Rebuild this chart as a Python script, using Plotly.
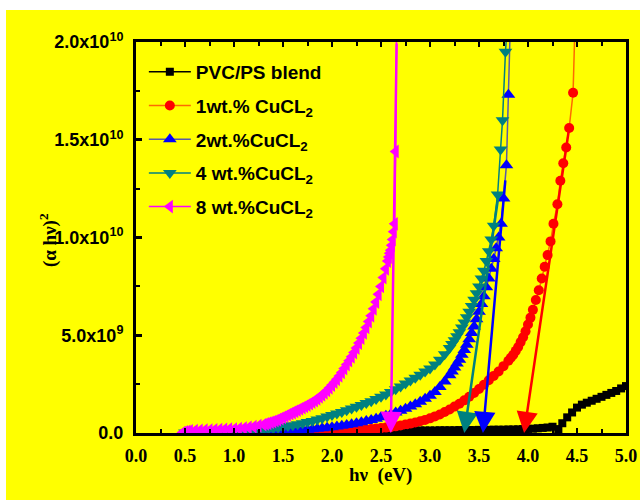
import plotly.graph_objects as go

# ---------------- data (values in units of 1e9) ----------------
grid_05 = [0.5, 0.55, 0.6, 0.65, 0.7, 0.75, 0.8, 0.85, 0.9, 0.95,
           1.0, 1.05, 1.1, 1.15, 1.2, 1.25, 1.3, 1.35, 1.4, 1.45,
           1.5, 1.55, 1.6, 1.65, 1.7, 1.75, 1.8, 1.85, 1.9, 1.95,
           2.0, 2.05, 2.1, 2.15, 2.2, 2.25, 2.3, 2.35, 2.4, 2.45,
           2.5, 2.55, 2.6, 2.65, 2.7, 2.75, 2.8, 2.85, 2.9, 2.95,
           3.0, 3.05, 3.1, 3.15, 3.2, 3.25, 3.3, 3.35, 3.4, 3.45,
           3.5, 3.55, 3.6, 3.65, 3.7, 3.75, 3.8, 3.85, 3.9, 3.95, 4.0]

# PVC/PS blend
pvc_x = grid_05 + [4.05, 4.1, 4.15, 4.2, 4.25, 4.28, 4.31, 4.35, 4.4, 4.45, 4.5,
                   4.55, 4.6, 4.65, 4.7, 4.75, 4.8, 4.85, 4.9, 4.95, 5.0]
pvc_y = [0.0] * 11 + [0.01] * 10 + [0.03] * 10 + \
        [0.05, 0.06, 0.07, 0.08, 0.08, 0.09, 0.09, 0.10, 0.10, 0.10,
         0.11, 0.11, 0.11, 0.12, 0.12, 0.12, 0.12, 0.13, 0.13, 0.13,
         0.13, 0.14, 0.14, 0.14, 0.14, 0.15, 0.15, 0.15, 0.15, 0.16,
         0.16, 0.16, 0.17, 0.17, 0.17, 0.18, 0.18, 0.19, 0.20, 0.21] + \
        [0.22, 0.24, 0.26, 0.28, 0.32, -0.5, 0.2, 0.5, 0.8, 1.05, 1.3,
         1.45, 1.55, 1.65, 1.75, 1.85, 1.95, 2.05, 2.15, 2.28, 2.4]

# 1 wt.% CuCl2
cu1_x = [0.5, 0.6, 0.7, 0.8, 0.9, 1.0, 1.1, 1.2, 1.3, 1.4, 1.5, 1.6, 1.7, 1.8, 1.9] + \
        grid_05[30:67] + \
        [3.825, 3.85, 3.875, 3.9, 3.925, 3.95, 3.975, 4.0, 4.025] + \
        [4.05, 4.08, 4.11, 4.14, 4.17, 4.20, 4.23, 4.26, 4.30, 4.33, 4.36, 4.39, 4.42, 4.46, 4.48]
cu1_y = [0.0, 0.0, 0.0, 0.0, 0.0, 0.01, 0.01, 0.01, 0.01, 0.02, 0.02, 0.02, 0.03, 0.03, 0.04] + \
        [0.05, 0.065, 0.08, 0.10, 0.12, 0.14, 0.16, 0.18, 0.20, 0.225,
         0.25, 0.275, 0.30, 0.34, 0.38, 0.43, 0.48, 0.54, 0.60, 0.67,
         0.75, 0.85, 0.95, 1.07, 1.20, 1.35, 1.50, 1.67, 1.85, 2.05,
         2.25, 2.47, 2.70, 2.92, 3.15, 3.42, 3.70] + \
        [3.85, 4.00, 4.20, 4.40, 4.65, 4.90, 5.20, 5.55, 5.90] + \
        [6.3, 6.8, 7.3, 7.9, 8.5, 9.1, 9.8, 10.7, 11.7, 12.9, 13.8, 14.6, 15.6, 17.4, 21.0]

# 2 wt.% CuCl2
cu2_x = grid_05[:55] + \
        [3.225, 3.25, 3.275, 3.3, 3.325, 3.35, 3.375, 3.4, 3.425, 3.45, 3.475,
         3.5, 3.525, 3.55, 3.575, 3.6, 3.625, 3.65, 3.675, 3.7, 3.725] + \
        [3.75, 3.78, 3.80, 3.82]
cu2_y = [0.02, 0.02, 0.02, 0.03, 0.03, 0.03, 0.03, 0.04, 0.04, 0.04,
         0.04, 0.05, 0.05, 0.055, 0.06, 0.065, 0.07, 0.075, 0.08, 0.09,
         0.10, 0.11, 0.12, 0.135, 0.15, 0.17, 0.19, 0.215, 0.24, 0.27,
         0.30, 0.335, 0.37, 0.41, 0.45, 0.50, 0.55, 0.61, 0.67, 0.73,
         0.80, 0.88, 0.96, 1.05, 1.14, 1.24, 1.35, 1.47, 1.60, 1.75,
         1.90, 2.10, 2.35, 2.63, 2.95] + \
        [3.15, 3.35, 3.55, 3.75, 4.00, 4.25, 4.52, 4.80, 5.12, 5.45, 5.82,
         6.20, 6.60, 7.00, 7.45, 7.90, 8.40, 8.90, 9.45, 10.0, 10.7] + \
        [12.0, 13.7, 17.3, 21.0]

# 4 wt.% CuCl2
cu4_x = grid_05[:55] + \
        [3.225, 3.25, 3.275, 3.3, 3.325, 3.35, 3.375, 3.4, 3.425, 3.45, 3.475,
         3.5, 3.525, 3.55, 3.575, 3.6, 3.625, 3.65] + \
        [3.69, 3.72, 3.74, 3.77, 3.79]
cu4_y = [0.02, 0.025, 0.03, 0.035, 0.04, 0.045, 0.05, 0.055, 0.06, 0.07,
         0.08, 0.09, 0.10, 0.115, 0.13, 0.15, 0.17, 0.20, 0.23, 0.27,
         0.31, 0.355, 0.40, 0.45, 0.50, 0.56, 0.62, 0.69, 0.76, 0.84,
         0.92, 1.00, 1.08, 1.165, 1.25, 1.34, 1.43, 1.53, 1.63, 1.74,
         1.85, 1.97, 2.10, 2.24, 2.38, 2.53, 2.68, 2.83, 2.98, 3.14,
         3.30, 3.50, 3.75, 4.03, 4.35] + \
        [4.55, 4.75, 4.95, 5.15, 5.40, 5.65, 5.92, 6.20, 6.50, 6.82, 7.15,
         7.50, 7.90, 8.30, 8.80, 9.30, 9.90, 10.6] + \
        [12.2, 14.5, 16.0, 19.5, 21.0]

# 8 wt.% CuCl2
cu8_x = [0.475, 0.5, 0.525, 0.55, 0.6, 0.65, 0.7, 0.75, 0.8, 0.85, 0.9, 0.95,
         1.0, 1.05, 1.1, 1.15, 1.2, 1.25, 1.3,
         1.325, 1.35, 1.375, 1.4, 1.425, 1.45, 1.475, 1.5, 1.525, 1.55,
         1.575, 1.6, 1.625, 1.65, 1.675, 1.7, 1.725, 1.75, 1.775, 1.8,
         1.825, 1.85, 1.875, 1.9, 1.925, 1.95, 1.975, 2.0, 2.025, 2.05,
         2.075, 2.1, 2.125, 2.15, 2.175, 2.2, 2.225, 2.25, 2.275, 2.3,
         2.325, 2.35, 2.375, 2.4, 2.425, 2.45, 2.475, 2.5, 2.525, 2.55,
         2.57, 2.58, 2.59, 2.6, 2.61, 2.62, 2.63, 2.64, 2.65, 2.66]
cu8_y = [0.02, 0.05, 0.08, 0.10, 0.12, 0.13, 0.14, 0.15, 0.16, 0.17, 0.18, 0.19,
         0.20, 0.22, 0.25, 0.28, 0.32, 0.37, 0.43,
         0.465, 0.50, 0.54, 0.58, 0.63, 0.68, 0.74, 0.80, 0.865, 0.93,
         0.99, 1.05, 1.11, 1.17, 1.235, 1.30, 1.365, 1.43, 1.50, 1.58,
         1.665, 1.75, 1.85, 1.95, 2.06, 2.18, 2.31, 2.45, 2.60, 2.75,
         2.92, 3.10, 3.30, 3.50, 3.70, 3.90, 4.12, 4.35, 4.60, 4.85,
         5.12, 5.40, 5.70, 6.00, 6.35, 6.70, 7.10, 7.50, 7.95, 8.40,
         8.8, 9.0, 9.2, 9.35, 9.6, 9.9, 10.3, 10.7, 14.4, 22.0]

series_names = ["PVC/PS blend", "1wt.% CuCL<sub>2</sub>", "2wt.%CuCL<sub>2</sub>",
                "4 wt.%CuCL<sub>2</sub>", "8 wt.%CuCL<sub>2</sub>"]

# band-gap extrapolation arrows: start (x, y in 1e9) and tip x on the energy axis
arrow_start_x = [2.66, 3.70, 3.77, 4.42]
arrow_start_y = [20.0, 12.2, 13.0, 15.6]
arrow_tip_x = [2.60, 3.35, 3.54, 3.96]

x_tick_vals = [0.0, 0.5, 1.0, 1.5, 2.0, 2.5, 3.0, 3.5, 4.0, 4.5, 5.0]
x_tick_labels = ["0.0", "0.5", "1.0", "1.5", "2.0", "2.5", "3.0", "3.5", "4.0", "4.5", "5.0"]
y_tick_vals = [0, 5e9, 1e10, 1.5e10, 2e10]
y_tick_labels = ["0.0", "5.0x10<sup>9</sup>", "1.0x10<sup>10</sup>",
                 "1.5x10<sup>10</sup>", "2.0x10<sup>10</sup>"]

SCALE = 1e9

# ---------------- figure ----------------
fig = go.Figure()

styles = [
    dict(sym="square", mcol="#000000", lcol="#000000", size=8),
    dict(sym="circle", mcol="#FF0000", lcol="#FF6A00", size=10),
    dict(sym="triangle-up", mcol="#0000FF", lcol="#5A5AA8", size=12),
    dict(sym="triangle-down", mcol="#008080", lcol="#008080", size=12),
    dict(sym="triangle-left", mcol="#FF00FF", lcol="#FF00FF", size=12),
]
xs = [pvc_x, cu1_x, cu2_x, cu4_x, cu8_x]
ys = [pvc_y, cu1_y, cu2_y, cu4_y, cu8_y]

for i, (sx, sy, nm, st) in enumerate(zip(xs, ys, series_names, styles)):
    assert len(sx) == len(sy), (nm, len(sx), len(sy))
    fig.add_trace(go.Scatter(
        x=sx, y=[v * SCALE for v in sy], name=nm, mode="lines+markers",
        line=dict(color=st["lcol"], width=1.5),
        marker=dict(symbol=st["sym"], color=st["mcol"], size=st["size"], line=dict(width=0)),
        legendgroup=str(i),
    ))

arrow_colors = ["#FF00FF", "#008080", "#0000FF", "#FF0000"]
for sx, sy, tx, c in zip(arrow_start_x, arrow_start_y, arrow_tip_x, arrow_colors):
    fig.add_annotation(x=tx, y=0, ax=sx, ay=sy * SCALE, xref="x", yref="y",
                       axref="x", ayref="y", showarrow=True, arrowhead=2,
                       arrowsize=1.7, arrowwidth=2.5, arrowcolor=c, text="")

# axis titles
fig.add_annotation(text="(α hν)<sup>2</sup>", xref="paper", yref="paper",
                   x=-0.177, y=0.494, xanchor="center", yanchor="middle",
                   textangle=-90, showarrow=False,
                   font=dict(family="Liberation Serif", size=19, color="black", weight="bold"))
fig.add_annotation(text="hν  (eV)", xref="paper", yref="paper",
                   x=0.498, y=-0.107, xanchor="center", yanchor="middle", showarrow=False,
                   font=dict(family="Liberation Serif", size=19, color="black", weight="bold"))

# yellow background, leaving a white strip at the top and left like the original
fig.add_shape(type="rect", xref="paper", yref="paper", x0=-0.2653, x1=1.03,
              y0=-0.18, y1=1.0818, fillcolor="#FFFF00", line=dict(width=0), layer="below")

fig.update_layout(
    width=640, height=500,
    margin=dict(l=136, r=14, t=42, b=67, pad=0),
    paper_bgcolor="white", plot_bgcolor="rgba(0,0,0,0)",
    showlegend=True,
    legend=dict(x=0.016, y=0.972, xanchor="left", yanchor="top", itemwidth=42,
                bgcolor="rgba(0,0,0,0)", traceorder="grouped", tracegroupgap=6,
                font=dict(family="Liberation Sans", size=19, color="black", weight="bold")),
)
fig.update_xaxes(range=[0, 5], tickvals=x_tick_vals, ticktext=x_tick_labels,
                 automargin=False,
                 showline=True, linewidth=3, linecolor="black", mirror="ticks",
                 ticks="inside", ticklen=5, tickwidth=2, tickcolor="black",
                 minor=dict(dtick=0.25, ticks="inside", ticklen=4, tickwidth=2, tickcolor="black"),
                 showgrid=False, zeroline=False, ticklabelstandoff=4,
                 tickfont=dict(family="Liberation Serif", size=18, color="black", weight="bold"))
fig.update_yaxes(range=[0, 2e10], tickvals=y_tick_vals, ticktext=y_tick_labels,
                 automargin=False,
                 showline=True, linewidth=3, linecolor="black", mirror=True,
                 ticks="inside", ticklen=6, tickwidth=3, tickcolor="black",
                 minor=dict(tickvals=[2.5e9, 7.5e9, 1.25e10, 1.75e10], ticks="inside",
                            ticklen=4, tickwidth=2, tickcolor="black"),
                 showgrid=False, zeroline=False, ticklabelstandoff=6,
                 tickfont=dict(family="Liberation Sans", size=18, color="black", weight="bold"))

# remove the browser's default 8px page margin so the 640x500 figure fills the window
fig.write_html("out.html", config={"displayModeBar": False},
               post_script="document.body.style.margin='0';document.body.style.overflow='hidden';")
